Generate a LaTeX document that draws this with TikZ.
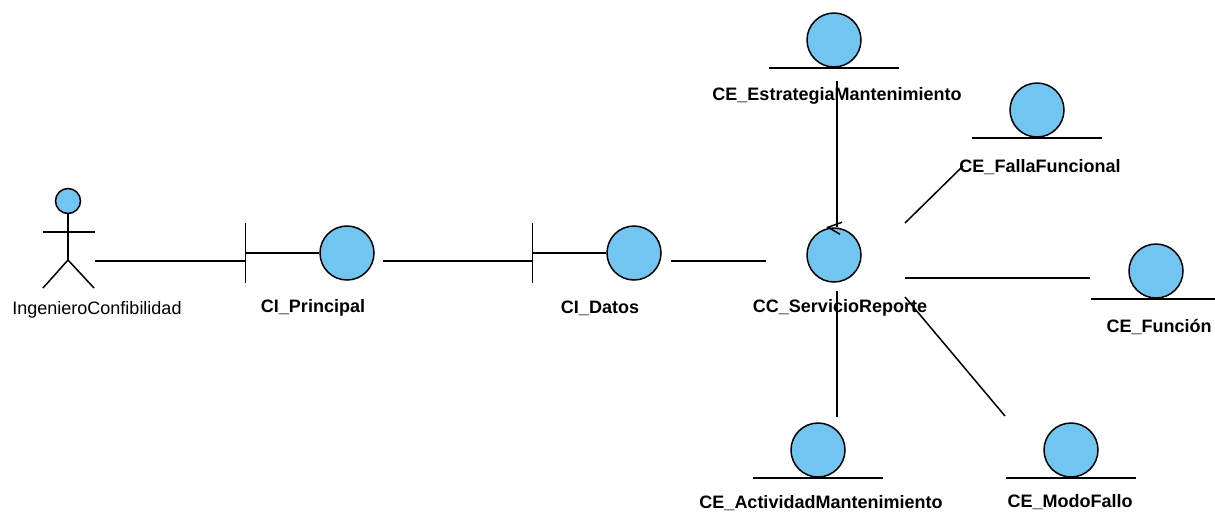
\documentclass[tikz,border=0pt]{standalone}
\usepackage{fontspec}
\setmainfont{Liberation Sans}
\usetikzlibrary{calc}

\definecolor{robfill}{RGB}{112,198,240}

\begin{document}
\begin{tikzpicture}[
  x=0.5pt, y=-0.5pt, line width=0.75pt,
  ball/.style={draw, circle, fill=robfill, minimum size=27pt, inner sep=0pt},
  lbl/.style={font=\fontsize{9}{10}\selectfont\bfseries, inner sep=0pt},
  albl/.style={font=\fontsize{9}{10}\selectfont, inner sep=0pt}
]
\useasboundingbox (0,0) rectangle (1215,521);

% actor
\node[draw, circle, fill=robfill, minimum size=12.5pt, inner sep=0pt] (head) at (68,201) {};
\draw (head.south) -- (68,260) coordinate (hip);
\draw (43,232) -- (95,232);
\draw (43,288) -- (hip) -- (94,288);
\node[albl] (ing) at (97,310) {IngenieroConfibilidad};
\coordinate (hand) at (95,261);

% interfaces
\node[ball] (prin) at (347,253) {};
\node[lbl] (prinlbl) at (313,308) {CI\_Principal};
\node[ball] (dat) at (634,253) {};
\node[lbl] (datlbl) at (600,308) {CI\_Datos};
\foreach \n in {prin,dat} {
  \draw (\n.west) -- ++(-74,0) coordinate (\n bar);
  \draw ([yshift=15pt]\n bar) -- ([yshift=-15pt]\n bar);
}

% control
\node[ball] (serv) at (834,255) {};
\node[lbl] (servlbl) at (840,308) {CC\_ServicioReporte};
\draw (serv.north) ++(8,-5) -- ++(-14,5) -- ++(12,7);

% entities
\node[ball] (estr) at (834,40) {};
\node[ball] (falla) at (1037,110) {};
\node[ball] (func) at (1156,271) {};
\node[ball] (activ) at (818,450) {};
\node[ball] (modo) at (1071,450) {};
\foreach \n in {estr,falla,func,activ,modo}
  \draw ($(\n.south)+(-65,0)$) -- ($(\n.south)+(65,0)$);
\node[lbl] (estrlbl) at (837,96) {CE\_EstrategiaMantenimiento};
\node[lbl] (fallalbl) at (1040,167) {CE\_FallaFuncional};
\node[lbl] (funclbl) at (1159,327) {CE\_Función};
\node[lbl] (activlbl) at (821,503) {CE\_ActividadMantenimiento};
\node[lbl] (modolbl) at (1070,502) {CE\_ModoFallo};

% links
\draw (hand) -- (hand -| prinbar);
\draw ([shift={(8,8)}]prin.east) coordinate (p1) -- (p1 -| datbar);
\draw ([shift={(9,8)}]dat.east) coordinate (p2) -- ([xshift=-20pt]serv.west |- p2);
\draw ([shift={(3,13)}]estr.south) -- ([xshift=1.5pt]serv.north);
\draw ([shift={(3,8)}]serv.south) -- ([shift={(19,-5)}]activ.north);
\draw ([shift={(71,-32)}]serv.center) -- ([shift={(-74,56)}]falla.center);
\draw ([shift={(71,23)}]serv.center) -- ([shift={(-66,7)}]func.center);
\draw ([shift={(71,42)}]serv.center) -- ([shift={(-66,-34)}]modo.center);
\end{tikzpicture}
\end{document}
